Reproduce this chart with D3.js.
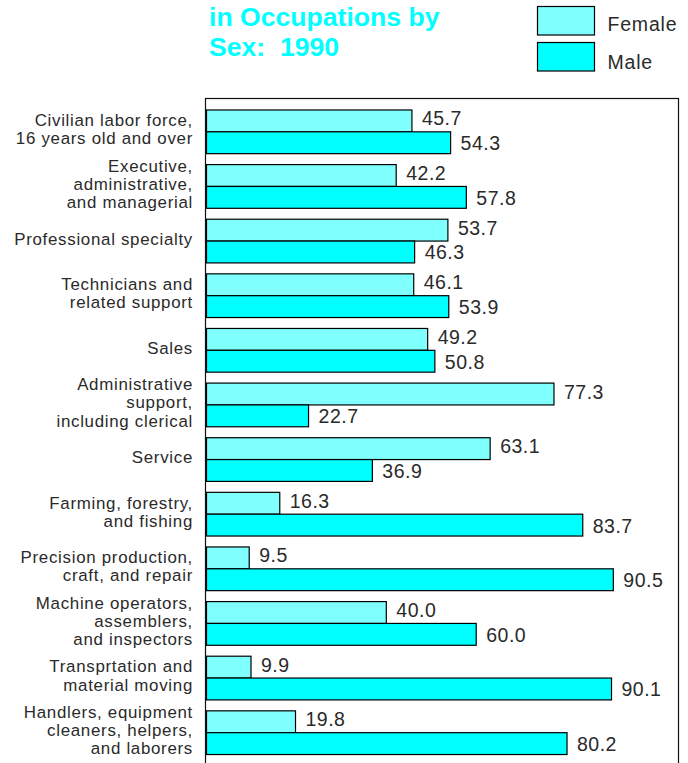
<!DOCTYPE html>
<html>
<head>
<meta charset="utf-8">
<script src="https://cdn.jsdelivr.net/npm/d3@7"></script>
<style>
  html, body { margin: 0; padding: 0; background: #fff; }
  svg { display: block; font-family: "Liberation Sans", Arial, Helvetica, sans-serif; }
</style>
</head>
<body>
<svg id="chart" width="688" height="763"></svg>
<script>
// chart data
const titleLines = ["in Occupations by", "Sex:  1990"];
const categories = [
    "Civilian labor force,\n16 years old and over",
    "Executive,\nadministrative,\nand managerial",
    "Professional specialty",
    "Technicians and\nrelated support",
    "Sales",
    "Administrative\nsupport,\nincluding clerical",
    "Service",
    "Farming, forestry,\nand fishing",
    "Precision production,\ncraft, and repair",
    "Machine operators,\nassemblers,\nand inspectors",
    "Transprtation and\nmaterial moving",
    "Handlers, equipment\ncleaners, helpers,\nand laborers"
];
const seriesNames = ["Female", "Male"];
const femaleValues = [45.7, 42.2, 53.7, 46.1, 49.2, 77.3, 63.1, 16.3, 9.5, 40.0, 9.9, 19.8];
const maleValues = [54.3, 57.8, 46.3, 53.9, 50.8, 22.7, 36.9, 83.7, 90.5, 60.0, 90.1, 80.2];

const colors = { Female: "#80ffff", Male: "#00ffff" };
const textColor = "#2a2a2a";

const svg = d3.select("#chart");

// plot frame
const plot = { left: 205.5, right: 678.5, top: 98.5, bottom: 766 };

const x = d3.scaleLinear()
            .domain([0, 105])
            .range([206.5, plot.right]);

const y = d3.scaleBand()
            .domain(categories)
            .range([plot.top, plot.bottom])
            .paddingInner(0.2)
            .paddingOuter(0.21);

const ySub = d3.scaleBand()
               .domain(seriesNames)
               .range([0, y.bandwidth()]);

// build rows from the arrays
const rows = categories.map((c, i) => ({
    category: c,
    values: [
        { series: "Female", value: femaleValues[i] },
        { series: "Male", value: maleValues[i] }
    ]
}));

// frame
svg.append("rect")
   .attr("x", plot.left)
   .attr("y", plot.top)
   .attr("width", plot.right - plot.left)
   .attr("height", plot.bottom - plot.top)
   .attr("fill", "none")
   .attr("stroke", "#111")
   .attr("stroke-width", 1.2);

// bars
const groups = svg.selectAll(".group")
    .data(rows)
    .enter().append("g")
    .attr("class", "group")
    .attr("transform", d => `translate(0,${y(d.category)})`);

groups.selectAll("rect")
    .data(d => d.values)
    .enter().append("rect")
    .attr("x", x(0))
    .attr("y", d => ySub(d.series))
    .attr("width", d => x(d.value) - x(0))
    .attr("height", ySub.bandwidth())
    .attr("fill", d => colors[d.series])
    .attr("stroke", "#000")
    .attr("stroke-width", 1.2);

// value labels
groups.selectAll(".value")
    .data(d => d.values)
    .enter().append("text")
    .attr("class", "value")
    .attr("x", d => x(d.value) + 10)
    .attr("y", d => ySub(d.series) + ySub.bandwidth() / 2 + (d.series === "Female" ? 4.5 : 7.5))
    .attr("font-size", 19.5)
    .attr("letter-spacing", 0.5)
    .attr("fill", textColor)
    .text(d => d.value.toFixed(1));

// category labels (left axis, no ticks)
const lineHeight = 18.2;
svg.selectAll(".cat")
    .data(categories)
    .enter().append("text")
    .attr("class", "cat")
    .attr("text-anchor", "end")
    .attr("font-size", 16.9)
    .attr("letter-spacing", 0.7)
    .attr("fill", textColor)
    .each(function (d) {
        const lines = d.split("\n");
        const cy = y(d) + y.bandwidth() / 2;
        d3.select(this).selectAll("tspan")
          .data(lines)
          .enter().append("tspan")
          .attr("x", 193)
          .attr("y", (l, k) => cy + 3.5 + (k - (lines.length - 1) / 2) * lineHeight)
          .text(l => l);
    });

// title (upper lines fall outside the window)
svg.selectAll(".title")
    .data(titleLines)
    .enter().append("text")
    .attr("class", "title")
    .attr("x", 209)
    .attr("y", (d, i) => 26 + i * 30)
    .attr("font-size", 26.6)
    .attr("font-weight", "bold")
    .attr("fill", "#00ffff")
    .attr("xml:space", "preserve")
    .style("white-space", "pre")
    .text(d => d);

// legend
const legend = svg.selectAll(".legend")
    .data(seriesNames)
    .enter().append("g")
    .attr("class", "legend")
    .attr("transform", (d, i) => `translate(537.5,${6.5 + i * 36})`);

legend.append("rect")
    .attr("width", 57)
    .attr("height", 28.5)
    .attr("fill", d => colors[d])
    .attr("stroke", "#000")
    .attr("stroke-width", 1.2);

legend.append("text")
    .attr("x", 70)
    .attr("y", (d, i) => 24 + i * 2)
    .attr("font-size", 19.5)
    .attr("letter-spacing", 0.8)
    .attr("fill", textColor)
    .text(d => d);
</script>
</body>
</html>
